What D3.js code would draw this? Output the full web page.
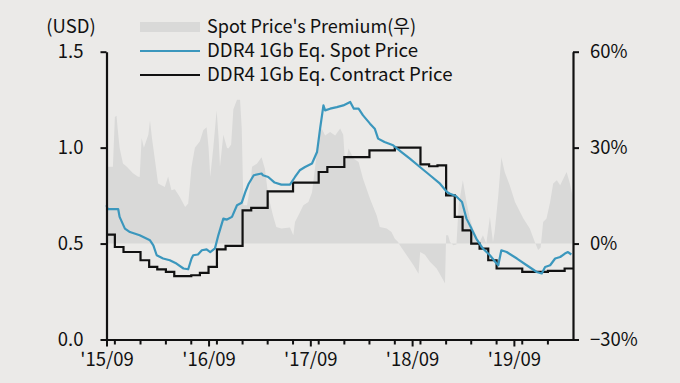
<!DOCTYPE html>
<html><head><meta charset="utf-8">
<script src="https://cdn.jsdelivr.net/npm/d3@7"></script>
<style>
body{margin:0;background:#ebeae8;}
svg{display:block;}
text{font-family:"Noto Sans CJK KR","Noto Sans",sans-serif;fill:#111;}
</style>
</head><body>
<svg id="chart" width="680" height="383"></svg>
<script>
// ---- data ----
const spotDates = ["2015-09-01","2015-09-05","2015-10-13","2015-10-18","2015-11-06","2015-11-24","2015-12-29","2016-02-04","2016-02-16","2016-02-28","2016-03-22","2016-04-15","2016-05-09","2016-06-03","2016-06-20","2016-07-02","2016-07-08","2016-07-25","2016-08-08","2016-08-25","2016-09-07","2016-09-24","2016-10-06","2016-10-24","2016-11-06","2016-11-24","2016-12-12","2016-12-29","2017-01-11","2017-01-23","2017-02-10","2017-03-10","2017-03-15","2017-04-03","2017-04-26","2017-05-20","2017-06-20","2017-07-08","2017-07-25","2017-08-13","2017-09-07","2017-09-25","2017-10-06","2017-10-18","2017-10-24","2017-11-11","2017-12-05","2017-12-28","2018-01-22","2018-02-04","2018-02-21","2018-03-09","2018-04-03","2018-04-20","2018-05-02","2018-05-25","2018-06-25","2018-07-25","2018-08-24","2018-09-29","2018-11-04","2018-12-10","2019-01-04","2019-01-15","2019-02-05","2019-02-27","2019-03-15","2019-04-02","2019-04-19","2019-05-13","2019-06-07","2019-07-01","2019-07-07","2019-07-18","2019-08-06","2019-09-12","2019-10-17","2019-11-22","2019-12-10","2019-12-22","2020-01-09","2020-01-27","2020-02-14","2020-03-02","2020-03-13","2020-03-25"];
const spotPrices = [0.70,0.68,0.679,0.639,0.578,0.56,0.543,0.517,0.491,0.439,0.422,0.413,0.396,0.37,0.366,0.422,0.439,0.443,0.465,0.47,0.456,0.475,0.543,0.63,0.625,0.639,0.70,0.713,0.769,0.812,0.856,0.865,0.856,0.847,0.818,0.807,0.807,0.847,0.882,0.899,0.917,0.977,1.099,1.22,1.194,1.203,1.211,1.22,1.238,1.203,1.203,1.168,1.125,1.099,1.047,1.029,1.012,0.977,0.943,0.899,0.856,0.812,0.769,0.76,0.748,0.717,0.63,0.578,0.526,0.474,0.439,0.396,0.387,0.465,0.456,0.422,0.387,0.352,0.344,0.378,0.387,0.422,0.43,0.448,0.456,0.443];

const contractMonths = ["2015-09","2015-10","2015-11","2015-12","2016-01","2016-02","2016-03","2016-04","2016-05","2016-06","2016-07","2016-08","2016-09","2016-10","2016-11","2016-12","2017-01","2017-02","2017-03","2017-04","2017-05","2017-06","2017-07","2017-08","2017-09","2017-10","2017-11","2017-12","2018-01","2018-02","2018-03","2018-04","2018-05","2018-06","2018-07","2018-08","2018-09","2018-10","2018-11","2018-12","2019-01","2019-02","2019-03","2019-04","2019-05","2019-06","2019-07","2019-08","2019-09","2019-10","2019-11","2019-12","2020-01","2020-02","2020-03"];
const contractPrices = [0.547,0.482,0.456,0.456,0.413,0.378,0.366,0.352,0.33,0.33,0.335,0.347,0.378,0.47,0.488,0.488,0.673,0.686,0.686,0.772,0.772,0.772,0.818,0.818,0.818,0.873,0.899,0.899,0.951,0.951,0.951,0.986,0.986,0.986,1.0,1.0,1.0,0.913,0.903,0.908,0.751,0.639,0.569,0.5,0.474,0.413,0.37,0.37,0.37,0.352,0.352,0.352,0.358,0.358,0.37];

const premiumDates = ["2015-09-01","2015-09-24","2015-10-01","2015-10-07","2015-10-11","2015-10-18","2015-10-30","2015-11-13","2015-12-05","2015-12-22","2015-12-29","2016-01-05","2016-01-13","2016-01-29","2016-02-04","2016-02-11","2016-02-22","2016-03-04","2016-03-28","2016-04-09","2016-04-21","2016-05-03","2016-05-21","2016-06-09","2016-06-20","2016-07-02","2016-07-14","2016-08-01","2016-08-13","2016-08-25","2016-09-01","2016-09-07","2016-09-18","2016-09-30","2016-10-07","2016-10-12","2016-10-24","2016-11-06","2016-11-11","2016-11-21","2016-11-29","2016-12-12","2016-12-23","2016-12-29","2017-01-04","2017-01-17","2017-01-28","2017-02-04","2017-02-22","2017-03-10","2017-03-22","2017-04-03","2017-04-20","2017-05-02","2017-05-20","2017-06-20","2017-07-02","2017-07-08","2017-07-20","2017-08-07","2017-08-25","2017-09-07","2017-09-19","2017-09-30","2017-10-12","2017-10-24","2017-11-11","2017-11-29","2017-12-17","2017-12-28","2018-01-04","2018-01-16","2018-02-03","2018-02-21","2018-03-09","2018-04-03","2018-04-27","2018-05-08","2018-06-02","2018-06-19","2018-07-01","2018-07-13","2018-07-19","2018-08-12","2018-09-06","2018-09-24","2018-09-30","2018-10-17","2018-11-04","2018-11-28","2018-12-22","2018-12-28","2019-01-01","2019-01-08","2019-01-15","2019-01-27","2019-02-07","2019-02-15","2019-03-02","2019-03-15","2019-03-27","2019-04-07","2019-04-19","2019-05-01","2019-05-13","2019-05-25","2019-06-07","2019-06-18","2019-06-24","2019-07-07","2019-07-18","2019-07-30","2019-08-17","2019-09-05","2019-09-23","2019-10-05","2019-10-28","2019-11-15","2019-11-27","2019-12-06","2019-12-15","2019-12-27","2020-01-09","2020-01-20","2020-02-02","2020-02-14","2020-03-02","2020-03-08","2020-03-20","2020-03-29"];
const premiumValues = [24,24,39.6,40,36,30,25,24,22,21,20.8,33,30,34,38.5,33,26,18.75,17.7,21,16.7,17,14.6,11.4,12.5,24,30,32,35.4,36.4,30,20.8,30,41.6,33,24,34,30,29.7,31,42,45,45,36,12,12,17.7,24,25,27,23.4,15,8.8,5.2,4.7,5,2.6,6.75,8.8,12,13,16,24.5,32.8,36,33.8,34.9,33.8,36,34,24.5,29.7,26.6,25.5,20.3,14,8.8,5.2,4.7,3.6,1.5,0.5,-0.5,-3.6,-6.8,-9.4,-2.6,-3.5,-5.7,-7.8,-11.5,-12.5,2.6,2.6,0.5,-0.5,-0.3,12,19.8,13,7.8,4.7,2.6,0.5,2.6,0,8.3,0.5,3.6,15,27,22.4,18.2,13,9.9,7.8,4.7,0.5,-2,-1.2,6.75,7.8,13,18.75,19.8,18.2,21.3,22.4,18.75,15];

const leftTicks = [0, 0.5, 1.0, 1.5];
const rightTicks = [-30, 0, 30, 60];
const xMajorTicks = ["2015-09","2016-09","2017-09","2018-09","2019-09"];
const xTickLabels = ["'15/09","'16/09","'17/09","'18/09","'19/09"];
const legendLabels = ["Spot Price's Premium(우)","DDR4 1Gb Eq. Spot Price","DDR4 1Gb Eq. Contract Price"];

// ---- chart ----
(function(){
const svg = d3.select("#chart");
const parseDay = d3.timeParse("%Y-%m-%d");
const parseMonth = d3.timeParse("%Y-%m");
const mL = 106.5, mR = 573, mT = 51.7, mB = 339.5;

const x = d3.scaleTime().domain([parseDay("2015-09-01"), parseDay("2020-03-31")]).range([mL, mR]);
const yL = d3.scaleLinear().domain([0, 1.5]).range([mB, mT]);
const yR = d3.scaleLinear().domain([-30, 60]).range([mB, mT]);

const spot = spotDates.map((d,i)=>({date:parseDay(d), v:spotPrices[i]}));
const contract = contractMonths.map((d,i)=>({date:parseMonth(d), v:contractPrices[i]}));
contract.push({date:x.domain()[1], v:contractPrices[contractPrices.length-1]});
const premium = premiumDates.map((d,i)=>({date:parseDay(d), v:premiumValues[i]}));

const C_GREY = "#d9d9d8", C_BLUE = "#3b97bd", C_BLACK = "#111";

svg.append("path").datum(premium)
  .attr("fill", C_GREY)
  .attr("d", d3.area().x(d=>x(d.date)).y0(yR(0)).y1(d=>yR(d.v)));

svg.append("path").datum(contract)
  .attr("fill","none").attr("stroke",C_BLACK).attr("stroke-width",2.2)
  .attr("d", d3.line().curve(d3.curveStepAfter).x(d=>x(d.date)).y(d=>yL(d.v)));

svg.append("path").datum(spot)
  .attr("fill","none").attr("stroke",C_BLUE).attr("stroke-width",2.2).attr("stroke-linejoin","round")
  .attr("d", d3.line().x(d=>x(d.date)).y(d=>yL(d.v)));

const fs = "18.5px";
const gL = svg.append("g").attr("transform",`translate(${mL},0)`)
  .call(d3.axisLeft(yL).tickValues(leftTicks).tickFormat(d3.format(".1f")).tickSize(6).tickSizeOuter(0).tickPadding(17));
const gR = svg.append("g").attr("transform",`translate(${mR},0)`)
  .call(d3.axisRight(yR).tickValues(rightTicks).tickFormat(d=> (d<0?"\u2212"+Math.abs(d):d)+"%").tickSize(6).tickSizeOuter(0).tickPadding(11));
const gX = svg.append("g").attr("transform",`translate(0,${mB})`)
  .call(d3.axisBottom(x).tickValues(xMajorTicks.map(parseMonth)).tickFormat((d,i)=>xTickLabels[i]).tickSize(7).tickSizeOuter(0).tickPadding(6));
const minor = d3.timeMonth.every(3).range(parseDay("2015-09-01"), x.domain()[1]);
svg.append("g").attr("transform",`translate(0,${mB})`)
  .selectAll("line").data(minor).join("line")
  .attr("x1",d=>x(d)).attr("x2",d=>x(d)).attr("y1",0).attr("y2",5)
  .attr("stroke",C_BLACK).attr("stroke-width",2);

[gL,gR,gX].forEach(g=>{
  g.select(".domain").attr("stroke",C_BLACK).attr("stroke-width",2.2);
  g.selectAll(".tick line").attr("stroke",C_BLACK).attr("stroke-width",2);
  g.selectAll(".tick text").style("font-size",fs).attr("fill","#111").style("font-family",'"Noto Sans CJK KR","Noto Sans",sans-serif');
});

svg.append("text").attr("x",71).attr("y",27).attr("dy","0.35em").attr("text-anchor","middle").style("font-size",fs).text("(USD)");

const lg = svg.append("g");
const rows = [27, 51, 75];
const legendWidths = [209, 211, 245.5];
lg.append("rect").attr("x",140).attr("y",rows[0]-5).attr("width",60).attr("height",10).attr("fill",C_GREY);
lg.append("line").attr("x1",140).attr("x2",200).attr("y1",rows[1]).attr("y2",rows[1]).attr("stroke",C_BLUE).attr("stroke-width",2.2);
lg.append("line").attr("x1",140).attr("x2",200).attr("y1",rows[2]).attr("y2",rows[2]).attr("stroke",C_BLACK).attr("stroke-width",2.2);
legendLabels.forEach((t,i)=>{
  lg.append("text").attr("x",207).attr("y",rows[i]).attr("dy","0.35em").style("font-size",fs)
    .attr("textLength",legendWidths[i]).attr("lengthAdjust","spacingAndGlyphs").text(t);
});
})();
</script>
</body></html>
